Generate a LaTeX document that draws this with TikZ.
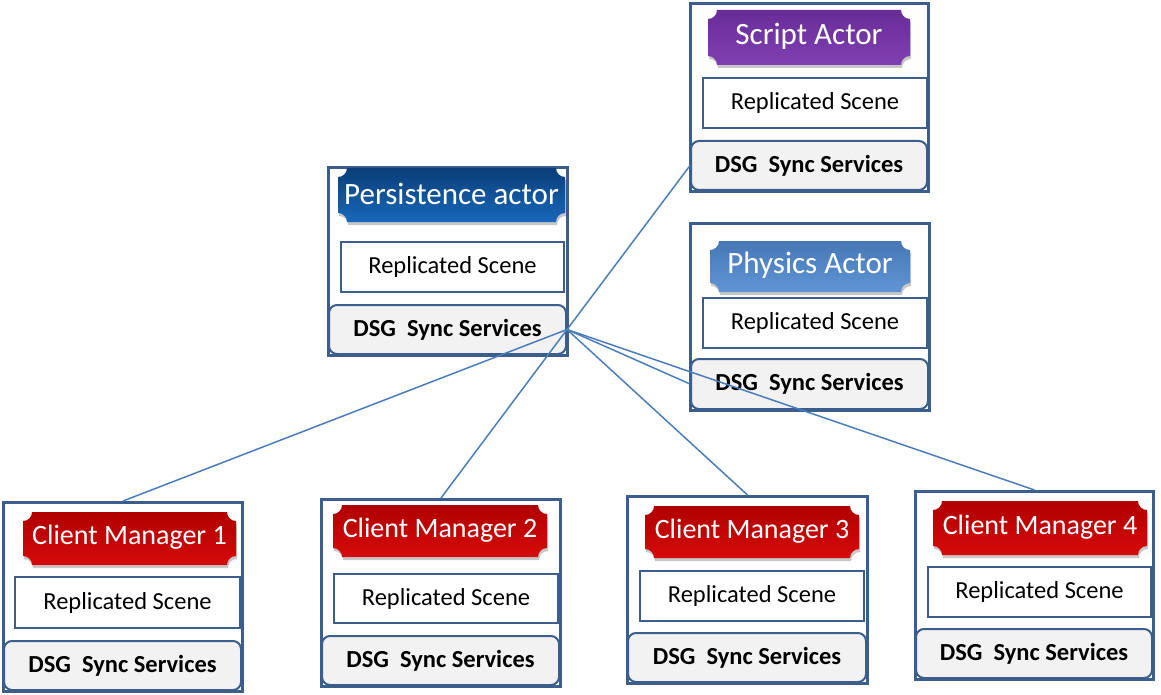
\documentclass[tikz,border=0pt]{standalone}
\usepackage{fontspec}
\setmainfont{Carlito}
\definecolor{framec}{RGB}{59,94,140}
\definecolor{linec}{RGB}{74,126,187}
\definecolor{dsgfill}{RGB}{242,242,242}
\definecolor{persA}{RGB}{10,62,120}
\definecolor{persB}{RGB}{24,104,186}
\definecolor{scrA}{RGB}{104,44,152}
\definecolor{scrB}{RGB}{128,64,178}
\definecolor{phyA}{RGB}{70,120,182}
\definecolor{phyB}{RGB}{96,148,212}
\definecolor{redA}{RGB}{176,0,0}
\definecolor{redB}{RGB}{214,10,10}
\tikzset{
  outerbox/.style={draw=framec, line width=3pt, fill=white, inner sep=0pt},
  replbox/.style={draw=framec, line width=2pt, fill=white, inner sep=0pt, font=\fontsize{24.5}{26}\selectfont},
  dsgbox/.style={draw=framec, line width=2pt, fill=dsgfill, rounded corners=8pt, inner sep=0pt, font=\fontsize{24.5}{26}\selectfont\bfseries},
  plaquetxt/.style={text=white, inner sep=0pt, font=\fontsize{28}{30}\selectfont},
  bigtxt/.style={font=\fontsize{31}{33}\selectfont},
  conn/.style={draw=linec, line width=1.5pt},
  persshade/.style={top color=persA, bottom color=persB},
  scrshade/.style={top color=scrA, bottom color=scrB},
  physhade/.style={top color=phyA, bottom color=phyB},
  redshade/.style={top color=redA, bottom color=redB},
}
% #1 name, #2 style, #3 x1, #4 y1, #5 x2, #6 y2, #7 text
\newcommand\boxat[7]{%
  \node[#2, anchor=north west, minimum width={(#5-#3)*1pt}, minimum height={(#6-#4)*1pt}] (#1) at (#3,#4) {#7};}
% #1 name, #2 shade style, #3 x1, #4 y1, #5 x2, #6 y2, #7 text options, #8 text
\newcommand\plaque[8]{%
  \fill[black, opacity=0.22, shift={(1,3)}]
    ({#3+9},{#4}) -- ({#5-9},{#4}) .. controls ({#5-9},{#4+5}) and ({#5-5},{#4+9}) .. ({#5},{#4+9})
    -- ({#5},{#6-9}) .. controls ({#5-5},{#6-9}) and ({#5-9},{#6-5}) .. ({#5-9},{#6})
    -- ({#3+9},{#6}) .. controls ({#3+9},{#6-5}) and ({#3+5},{#6-9}) .. ({#3},{#6-9})
    -- ({#3},{#4+9}) .. controls ({#3+5},{#4+9}) and ({#3+9},{#4+5}) .. ({#3+9},{#4}) -- cycle;
  \shade[#2]
    ({#3+9},{#4}) -- ({#5-9},{#4}) .. controls ({#5-9},{#4+5}) and ({#5-5},{#4+9}) .. ({#5},{#4+9})
    -- ({#5},{#6-9}) .. controls ({#5-5},{#6-9}) and ({#5-9},{#6-5}) .. ({#5-9},{#6})
    -- ({#3+9},{#6}) .. controls ({#3+9},{#6-5}) and ({#3+5},{#6-9}) .. ({#3},{#6-9})
    -- ({#3},{#4+9}) .. controls ({#3+5},{#4+9}) and ({#3+9},{#4+5}) .. ({#3+9},{#4}) -- cycle;
  \node[plaquetxt, #7] (#1) at ({(#3+#5)/2},{(#4+#6)/2-1}) {#8};}
\begin{document}
\begin{tikzpicture}[x=1pt, y=-1pt]
\useasboundingbox[fill=white] (0,0) rectangle (1161,695);
% Persistence
\boxat{p}{outerbox}{327}{166}{566}{354}{}
\boxat{pR}{replbox}{340}{241}{563}{291}{Replicated Scene}
\boxat{pD}{dsgbox}{328}{304}{565}{353}{DSG\ \ Sync Services}
\plaque{pT}{persshade}{338}{168}{565}{222}{bigtxt}{Persistence actor}
% Script
\boxat{s}{outerbox}{689}{2}{927}{190}{}
\boxat{sR}{replbox}{702}{77}{926}{127}{Replicated Scene}
\boxat{sD}{dsgbox}{690}{140}{926}{189}{DSG\ \ Sync Services}
\plaque{sT}{scrshade}{708}{10}{910}{65}{bigtxt}{Script Actor}
% Physics
\boxat{ph}{outerbox}{689}{222}{928}{409}{}
\boxat{phR}{replbox}{702}{297}{926}{347}{Replicated Scene}
\boxat{phD}{dsgbox}{690}{358}{927}{408}{DSG\ \ Sync Services}
\plaque{phT}{physhade}{710}{241}{910}{292}{bigtxt}{Physics Actor}
% Client Manager 1
\boxat{c1}{outerbox}{2}{501}{241}{690}{}
\boxat{c1R}{replbox}{14}{576}{239}{627}{Replicated Scene}
\boxat{c1D}{dsgbox}{3}{640}{240}{689}{DSG\ \ Sync Services}
\plaque{c1T}{redshade}{23}{512}{236}{565}{}{Client Manager 1}
% Client Manager 2
\boxat{c2}{outerbox}{320}{498}{559}{685}{}
\boxat{c2R}{replbox}{333}{573}{557}{622}{Replicated Scene}
\boxat{c2D}{dsgbox}{321}{635}{558}{684}{DSG\ \ Sync Services}
\plaque{c2T}{redshade}{333}{505}{547}{557}{}{Client Manager 2}
% Client Manager 3
\boxat{c3}{outerbox}{626}{495}{866}{682}{}
\boxat{c3R}{replbox}{639}{570}{863}{620}{Replicated Scene}
\boxat{c3D}{dsgbox}{627}{632}{865}{681}{DSG\ \ Sync Services}
\plaque{c3T}{redshade}{645}{506}{859}{558}{}{Client Manager 3}
% Client Manager 4
\boxat{c4}{outerbox}{914}{490}{1152}{678}{}
\boxat{c4R}{replbox}{927}{566}{1150}{616}{Replicated Scene}
\boxat{c4D}{dsgbox}{915}{628}{1151}{677}{DSG\ \ Sync Services}
\plaque{c4T}{redshade}{933}{501}{1147}{555}{}{Client Manager 4}
% Connectors
\draw[conn] (pD.east) -- (sD.west);
\draw[conn] (pD.east) -- (phD.west);
\draw[conn] (pD.east) -- (c1.north);
\draw[conn] (pD.east) -- (c2.north);
\draw[conn] (pD.east) -- (c3.north);
\draw[conn] (pD.east) -- (c4.north);
\end{tikzpicture}
\end{document}
